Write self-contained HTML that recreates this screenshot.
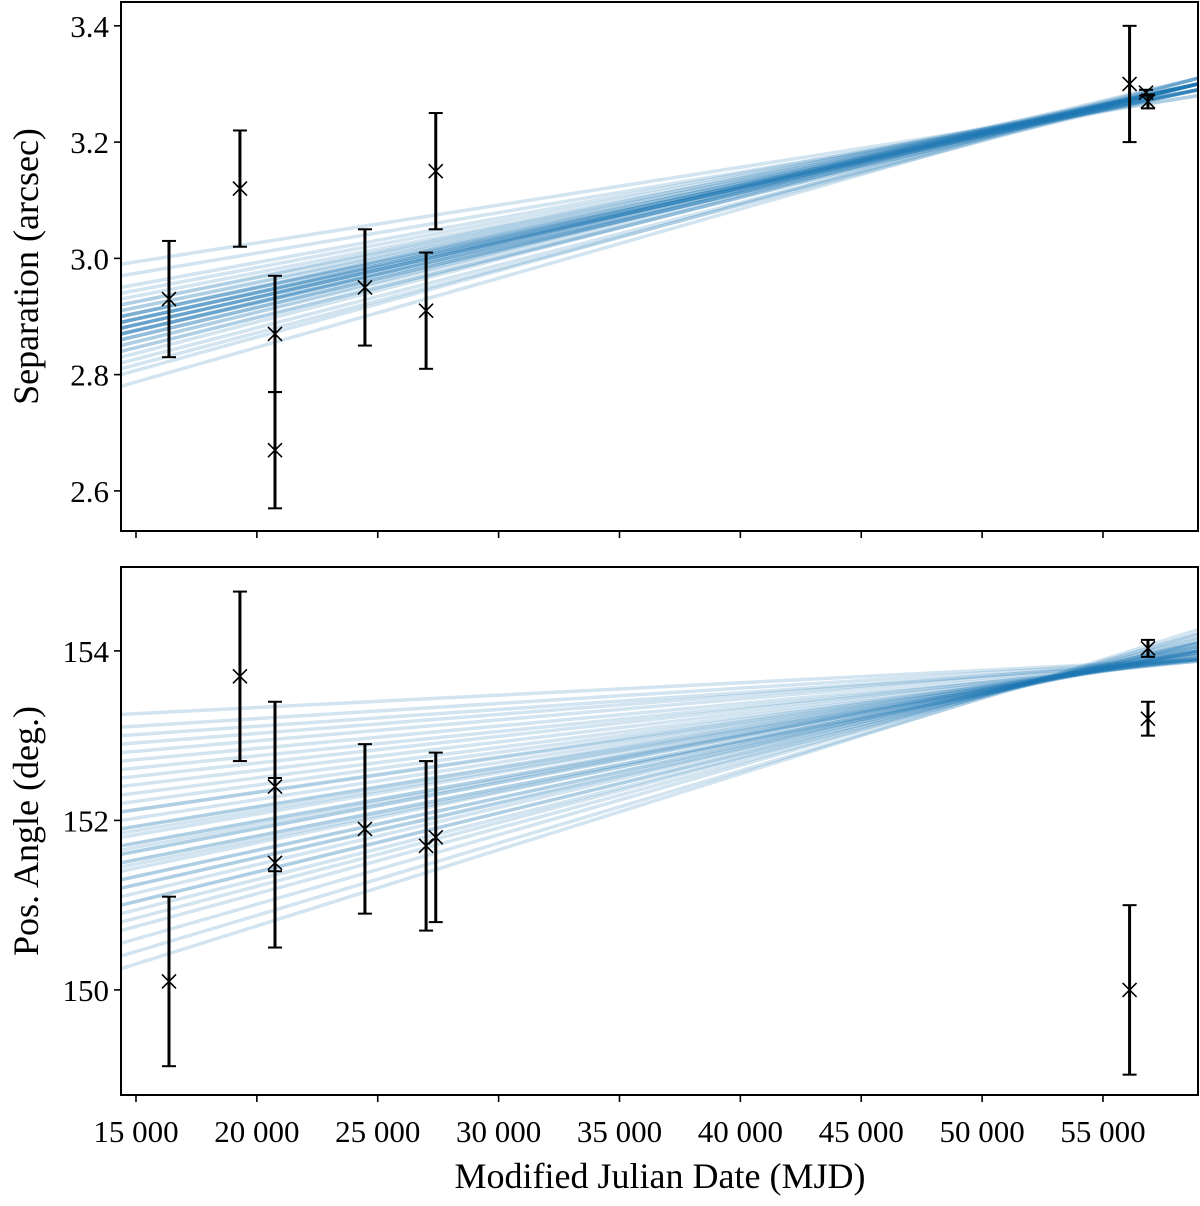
<!DOCTYPE html>
<html><head><meta charset="utf-8"><style>
body{margin:0;background:#fff}
svg text{font-family:"Liberation Serif",serif;fill:#000}
</style></head><body>
<svg id="chart" width="1200" height="1201" xmlns="http://www.w3.org/2000/svg">
<g id="top"></g>
<g id="bot"></g>
</svg>
<script>
const xTicks=[15000,20000,25000,30000,35000,40000,45000,50000,55000];
const xTickLabels=["15 000","20 000","25 000","30 000","35 000","40 000","45 000","50 000","55 000"];
const sepTicks=[2.6,2.8,3.0,3.2,3.4];
const paTicks=[150,152,154];
const obsMJD=[16365,19300,20750,20750,24470,27000,27400,56100,56780,56860];
const sepVal=[2.93,3.12,2.87,2.67,2.95,2.91,3.15,3.30,3.285,3.27];
const sepErr=[0.10,0.10,0.10,0.10,0.10,0.10,0.10,0.10,0.005,0.012];
const paMJD=[16365,19300,20750,20750,24470,27000,27400,56100,56860,56860];
const paVal=[150.1,153.7,152.4,151.5,151.9,151.7,151.8,150.0,154.03,153.2];
const paErr=[1.0,1.0,1.0,1.0,1.0,1.0,1.0,1.0,0.1,0.2];
// model lines: values at MJD 14380 (left) and 58930 (right)
const sepLeft=[2.78,2.80,2.81,2.82,2.83,2.84,2.84,2.85,2.85,2.86,2.86,2.87,2.87,2.87,2.88,2.88,2.88,2.89,2.89,2.89,2.90,2.90,2.90,2.91,2.91,2.92,2.92,2.93,2.94,2.95,2.97,2.99,2.86,2.87,2.88,2.89,2.90,2.88,2.89,2.87];
const sepRight=[3.31,3.31,3.30,3.30,3.31,3.30,3.30,3.30,3.31,3.30,3.30,3.30,3.31,3.29,3.30,3.30,3.30,3.30,3.29,3.30,3.29,3.30,3.30,3.29,3.30,3.29,3.30,3.29,3.29,3.29,3.28,3.28,3.30,3.30,3.30,3.29,3.29,3.30,3.30,3.30];
const paLeft=[150.25,150.4,150.55,150.7,150.8,150.9,151.0,151.1,151.2,151.3,151.4,151.45,151.5,151.6,151.65,151.7,151.8,151.85,151.9,152.0,152.1,152.2,152.3,152.4,152.5,152.6,152.7,152.8,152.9,153.0,153.1,153.25,151.0,151.3,151.5,151.7,151.9,152.1,151.6,151.2];
const paRight=[154.25,154.2,154.2,154.15,154.15,154.1,154.1,154.1,154.05,154.05,154.05,154.0,154.0,154.0,154.0,153.98,153.98,153.95,153.95,153.95,153.92,153.92,153.9,153.9,153.9,153.88,153.88,153.9,153.9,153.88,153.9,153.9,154.1,154.05,154.0,154.0,153.98,153.95,154.02,154.08];

const NS='http://www.w3.org/2000/svg';
const X0=121,X1=1198,M0=14380,M1=58930;
const xs=m=>X0+(m-M0)/(M1-M0)*(X1-X0);
function el(p,t,a){const e=document.createElementNS(NS,t);for(const k in a)e.setAttribute(k,a[k]);p.appendChild(e);return e;}
function panel(g,top,bot,v0,v1,ticks,tfmt,lx,lv,le,L,R,label,showX){
  const ys=v=>bot-(v-v0)/(v1-v0)*(bot-top);
  for(let i=0;i<L.length;i++){
    const l=el(g,'line',{x1:X0,y1:ys(L[i]),x2:X1,y2:ys(R[i]),stroke:'#1f77b4','stroke-opacity':0.2,'stroke-width':3.5});
    
    
  }
  for(let i=0;i<lx.length;i++){
    const x=xs(lx[i]),y=ys(lv[i]),ya=ys(lv[i]+le[i]),yb=ys(lv[i]-le[i]);
    const p=el(g,'g',{});
    
    
    el(p,'line',{x1:x,y1:ya,x2:x,y2:yb,stroke:'#000','stroke-width':3});
    el(p,'line',{x1:x-7,y1:ya,x2:x+7,y2:ya,stroke:'#000','stroke-width':2});
    el(p,'line',{x1:x-7,y1:yb,x2:x+7,y2:yb,stroke:'#000','stroke-width':2});
    el(p,'path',{d:`M${x-7},${y-7}L${x+7},${y+7}M${x-7},${y+7}L${x+7},${y-7}`,stroke:'#000','stroke-width':1.6});
  }
  const f=el(g,'rect',{x:X0,y:top,width:X1-X0,height:bot-top,fill:'none',stroke:'#000','stroke-width':2});
  
  ticks.forEach(t=>{const y=ys(t);el(g,'line',{x1:X0-7,y1:y,x2:X0,y2:y,stroke:'#000','stroke-width':1.6});
    const tx=el(g,'text',{x:X0-12,y:y+11,'text-anchor':'end','font-size':31});tx.textContent=tfmt(t);
    });
  xTicks.forEach((t,i)=>{const x=xs(t);el(g,'line',{x1:x,y1:bot,x2:x,y2:bot+7,stroke:'#000','stroke-width':1.6});
    if(showX){const tx=el(g,'text',{x:x,y:bot+47,'text-anchor':'middle','font-size':31});tx.textContent=xTickLabels[i];
    }});
  const yl=el(g,'text',{x:0,y:0,'text-anchor':'middle','font-size':36,transform:`translate(38,${(top+bot)/2}) rotate(-90)`});
  yl.textContent=label;
}
panel(document.getElementById('top'),2,531,2.531,3.441,sepTicks,t=>t.toFixed(1),obsMJD,sepVal,sepErr,sepLeft,sepRight,'Separation (arcsec)',false);
panel(document.getElementById('bot'),567,1095,148.76,154.99,paTicks,t=>String(t),paMJD,paVal,paErr,paLeft,paRight,'Pos. Angle (deg.)',true);
const xt=el(document.getElementById('chart'),'text',{x:660,y:1188,'text-anchor':'middle','font-size':36});
xt.textContent='Modified Julian Date (MJD)';


</script>
</body></html>
